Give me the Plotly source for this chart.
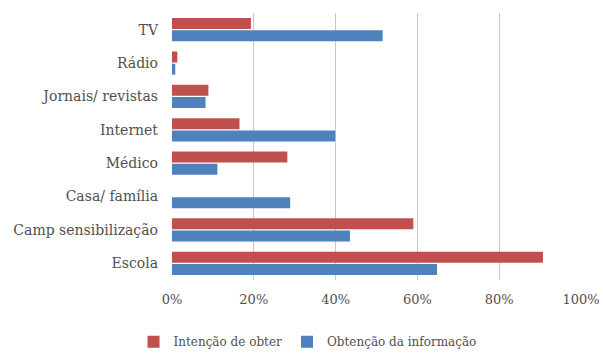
import plotly.graph_objects as go

# Sources of information (top to bottom)
categories = ["TV", "Rádio", "Jornais/ revistas", "Internet", "Médico",
              "Casa/ família", "Camp sensibilização", "Escola"]

# Share of respondents (fraction)
intencao = [0.193, 0.013, 0.089, 0.165, 0.282, 0.0, 0.590, 0.907]
obtencao = [0.515, 0.008, 0.082, 0.399, 0.111, 0.289, 0.435, 0.648]

series_names = ["Intenção de obter", "Obtenção da informação"]
series_colors = ["#C0504D", "#4F81BD"]

x_ticks = [0, 0.2, 0.4, 0.6, 0.8, 1.0]
x_tick_labels = ["0%", "20%", "40%", "60%", "80%", "100%"]

FONT = "DejaVu Serif"
TEXT = "#505050"

fig = go.Figure()
for name, vals, col in zip(series_names, [intencao, obtencao], series_colors):
    fig.add_trace(go.Bar(
        y=categories, x=vals, name=name, orientation="h",
        marker=dict(color=col, line=dict(width=0)),
    ))

fig.update_layout(
    width=603, height=356,
    margin=dict(l=172, r=22, t=13, b=76, autoexpand=False),
    paper_bgcolor="white", plot_bgcolor="white",
    barmode="group", bargap=0.27, bargroupgap=0.1,
    font=dict(family=FONT, color=TEXT, size=13),
    legend=dict(
        orientation="h", xref="container", x=0.51, xanchor="center",
        yref="container", y=0.04, yanchor="middle",
        font=dict(family=FONT, size=12, color=TEXT),
        itemwidth=30, traceorder="normal",
    ),
    showlegend=True,
)
fig.update_xaxes(
    range=[0, 1.0], tickvals=x_ticks, ticktext=x_tick_labels,
    showgrid=True, gridcolor="#c8c8c8", gridwidth=1,
    zeroline=False, showline=False, ticks="", ticklabelstandoff=10,
    tickfont=dict(family=FONT, size=13, color=TEXT),
)
fig.update_yaxes(
    autorange="reversed", showgrid=False, zeroline=False,
    showline=False, ticks="", ticklabelstandoff=13,
    tickfont=dict(family=FONT, size=14, color=TEXT),
)

fig.write_html("out.html")
